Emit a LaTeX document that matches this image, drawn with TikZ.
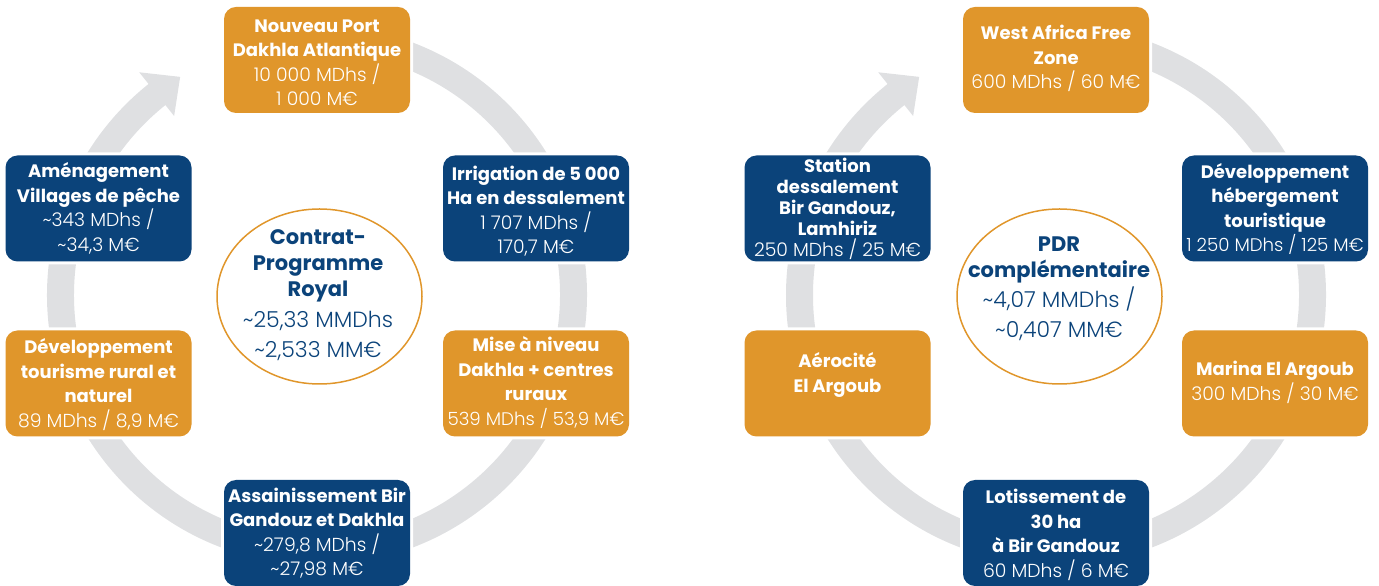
\documentclass[tikz,border=0pt]{standalone}
\usepackage{fontspec}
\setmainfont{Poppins}
\newfontfamily\lightf{Poppins Light}
\usetikzlibrary{shapes.geometric}
\definecolor{orng}{HTML}{E0962B}
\definecolor{navy}{HTML}{0B437A}
\definecolor{ringgray}{HTML}{DFE0E2}
\newcommand{\nm}[1]{{\lightf\mdseries\fontsize{18.8}{24.5}\selectfont #1}}
\newcommand{\nms}[1]{{\lightf\mdseries\fontsize{18.2}{24.5}\selectfont #1}}
\newcommand{\hn}[1]{{\lightf\mdseries\fontsize{22}{26}\selectfont #1}}
\tikzset{
  card/.style={rectangle, rounded corners=12pt, minimum width=186pt, minimum height=106pt, inner sep=0pt, preaction={draw=white, line width=6pt}},
  ocard/.style={card, fill=orng},
  ncard/.style={card, fill=navy},
  cardtxt/.style={align=center, text=white, font=\fontsize{18}{24.5}\selectfont\bfseries, inner sep=0pt},
  ringline/.style={draw=ringgray, line width=27pt},
  ringhead/.style={fill=ringgray},
  hub/.style={ellipse, draw=orng, line width=1.5pt, minimum width=205pt, minimum height=175pt, inner sep=0pt},
  hubtxt/.style={align=center, text=navy, font=\fontsize{21}{26}\selectfont\bfseries, inner sep=0pt},
}
\begin{document}
\begin{tikzpicture}[x=1pt,y=1pt]
\useasboundingbox (0,0) rectangle (1379,586);
% ---------- rings ----------
\coordinate (LC) at (317,291);
\coordinate (RC) at (1056,291);
\foreach \c in {LC,RC}{
  \draw[ringline] ([shift={(128:256.5)}]\c) arc[start angle=128, end angle=450, radius=256.5];
  \fill[ringhead] ([shift={(128.6:285)}]\c) -- ([shift={(122.1:257.5)}]\c) -- ([shift={(128.6:229)}]\c) -- cycle;
}
% ---------- left cycle ----------
\node[hub] (lhub) at (319.5,289.5) {};
\node[hubtxt] (lhubt) at (318,291) {Contrat-\\Programme\\Royal\\[5pt]\hn{\textasciitilde25,33 MMDhs}\\[4pt]\hn{\textasciitilde2,533 MM€}};

\node[ocard] (np) at (317,526) {};
\node[cardtxt] (npt) at (317,523.5) {Nouveau Port\\Dakhla Atlantique\\\nm{10 000 MDhs /}\\\nm{1 000 M€}};

\node[ncard] (am) at (98.5,377.5) {};
\node[cardtxt] (amt) at (98.5,377.5) {Aménagement\\Villages de pêche\\\nm{\textasciitilde343 MDhs /}\\\nm{\textasciitilde34,3 M€}};

\node[ncard] (ir) at (536,377.5) {};
\node[cardtxt] (irt) at (536,375) {Irrigation de 5 000\\Ha en dessalement\\\nm{1 707 MDhs /}\\\nm{170,7 M€}};

\node[ocard] (dt) at (98.5,202.5) {};
\node[cardtxt] (dtt) at (98.5,201.5) {Développement\\tourisme rural et\\naturel\\\nm{89 MDhs / 8,9 M€}};

\node[ocard] (mn) at (536,202.5) {};
\node[cardtxt] (mnt) at (536,203.5) {Mise à niveau\\Dakhla + centres\\ruraux\\\nms{539 MDhs / 53,9 M€}};

\node[ncard] (as) at (317,53) {};
\node[cardtxt] (ast) at (317,53) {Assainissement Bir\\Gandouz et Dakhla\\\nm{\textasciitilde279,8 MDhs /}\\\nm{\textasciitilde27,98 M€}};

% ---------- right cycle ----------
\node[hub] (rhub) at (1059.5,289.5) {};
\node[hubtxt] (rhubt) at (1059,297.5) {PDR\\complémentaire\\[3pt]\hn{\textasciitilde4,07 MMDhs /}\\[4pt]\hn{\textasciitilde0,407 MM€}};

\node[ocard] (wa) at (1056,526) {};
\node[cardtxt] (wat) at (1056,527.5) {West Africa Free\\Zone\\\nm{600 MDhs / 60 M€}};

\node[ncard] (st) at (837.5,377.5) {};
\node[cardtxt, font=\fontsize{18}{21}\selectfont\bfseries] (stt) at (837.5,377) {Station\\dessalement\\Bir Gandouz,\\Lamhiriz\\\nm{250 MDhs / 25 M€}};

\node[ncard] (dh) at (1275,377.5) {};
\node[cardtxt] (dht) at (1275,377) {Développement\\hébergement\\touristique\\\nms{1 250 MDhs / 125 M€}};

\node[ocard] (ae) at (837.5,202.5) {};
\node[cardtxt] (aet) at (837.5,211) {Aérocité\\El Argoub};

\node[ocard] (ma) at (1275,202.5) {};
\node[cardtxt] (mat) at (1275,203.5) {Marina El Argoub\\\nm{300 MDhs / 30 M€}};

\node[ncard] (lo) at (1056,53) {};
\node[cardtxt] (lot) at (1056,51) {Lotissement de\\30 ha\\à Bir Gandouz\\\nm{60 MDhs / 6 M€}};
\end{tikzpicture}
\end{document}
